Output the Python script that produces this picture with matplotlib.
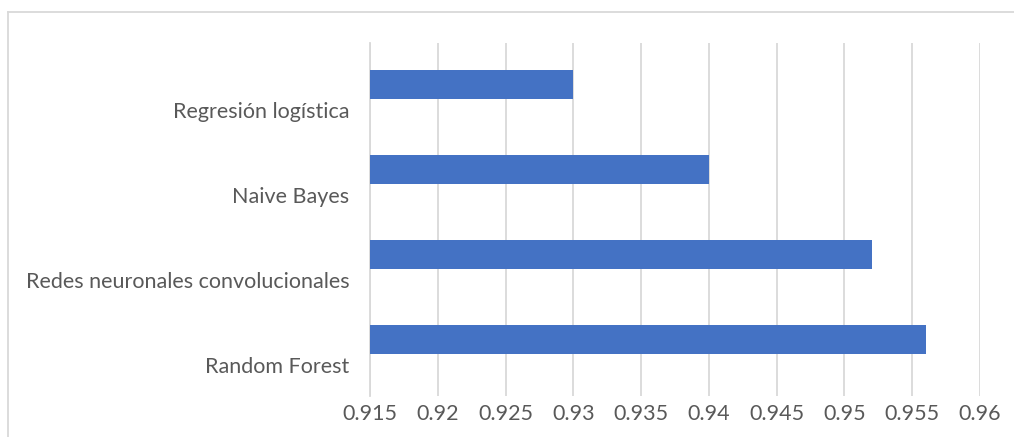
import numpy as np
import matplotlib.pyplot as plt
from matplotlib.lines import Line2D

modelos = ["Random Forest", "Redes neuronales convolucionales", "Naive Bayes", "Regresión logística"]
precision = [0.956, 0.952, 0.94, 0.93]
xticks = [0.915, 0.92, 0.925, 0.93, 0.935, 0.94, 0.945, 0.95, 0.955, 0.96]
xtick_labels = ["0.915", "0.92", "0.925", "0.93", "0.935", "0.94", "0.945", "0.95", "0.955", "0.96"]

plt.rcParams['font.family'] = ['Lato', 'DejaVu Sans']
text_color = "#595959"
grid_color = "#d9d9d9"

fig = plt.figure(figsize=(10.14, 4.37), dpi=100)
ax = fig.add_axes([370 / 1014, 41 / 437, 610 / 1014, 353 / 437])

y = np.arange(len(modelos))
ax.barh(y, np.array(precision) - 0.915, left=0.915, height=0.34, color="#4472c4", zorder=3)

ax.set_xlim(0.915, 0.96)
ax.set_ylim(-0.665, 3.488)
ax.set_xticks(xticks)
ax.set_xticklabels(xtick_labels, fontsize=15.5, color=text_color)
ax.set_yticks(y - 0.3)
ax.set_yticklabels(modelos, fontsize=15.5, color=text_color)
ax.tick_params(axis="both", length=0)
ax.tick_params(axis="x", pad=6)
ax.tick_params(axis="y", pad=15)

ax.grid(axis="x", color=grid_color, linewidth=1.3, zorder=0)
for s in ["top", "right", "bottom"]:
    ax.spines[s].set_visible(False)
ax.spines["left"].set_color(grid_color)
ax.spines["left"].set_linewidth(1.3)

# chart border (cropped at right and bottom)
fig.add_artist(Line2D([8 / 1014, 8 / 1014], [0, 1 - 12 / 437], color=grid_color, linewidth=1.3))
fig.add_artist(Line2D([8 / 1014, 1], [1 - 12 / 437, 1 - 12 / 437], color=grid_color, linewidth=1.3))

fig.savefig("out.png", dpi=100)
